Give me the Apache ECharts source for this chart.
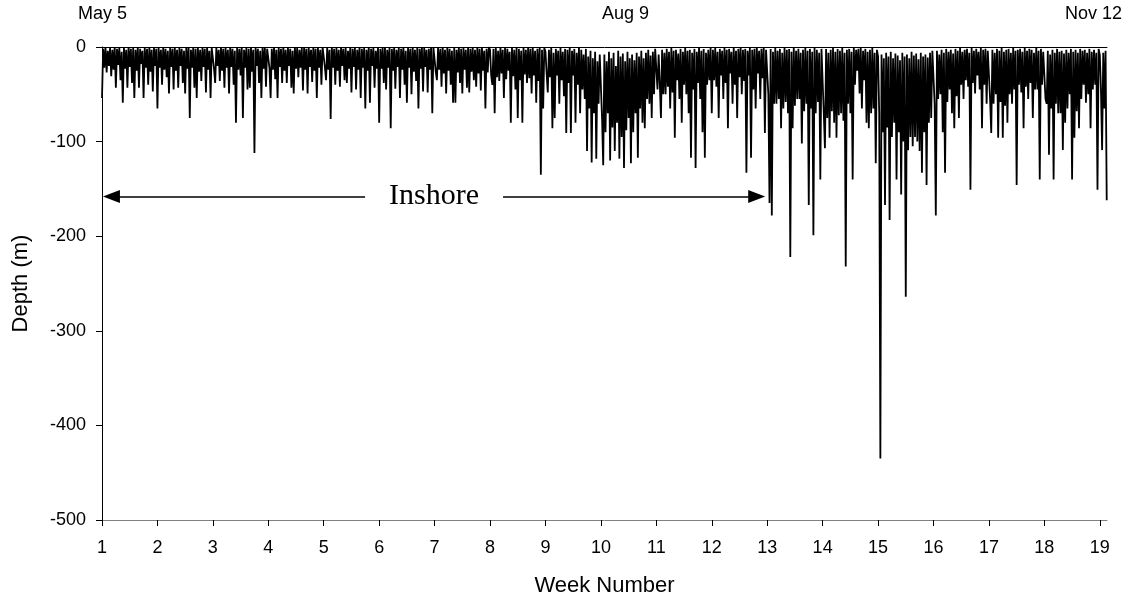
<!DOCTYPE html>
<html>
<head>
<meta charset="utf-8">
<script src="https://cdn.jsdelivr.net/npm/echarts@6/dist/echarts.min.js"></script>
<style>html,body{margin:0;padding:0;background:#fff;}#chart{width:1131px;height:603px;}</style>
</head>
<body>
<div id="chart"></div>
<script>
// Depth (m) readings, 48 samples per week
const samplesPerWeek = 48;
const startWeek = 1;
const w1 = [-54,-2,-22,0,-27,-4,-20,-1,-31,-3,-24,0,-43,-2,-19,-1,-35,-5,-59,-1,-23,-3,-43,0,-21,-2,-38,-1,-54,-3,-25,0,-43,-2,-18,-4,-54,-1,-22,-2,-40,0,-26,-3,-47,-1,-20,-2];
const w2 = [-65,-1,-22,-3,-40,0,-24,-2,-32,-4,-49,-1,-21,-2,-45,0,-25,-3,-43,-1,-20,-2,-38,-4,-49,0,-23,-1,-75,-3,-22,-1,-43,-2,-54,0,-26,-3,-36,-1,-21,-2,-48,0,-24,-4,-54,-1];
const w3 = [-2,-23,-38,-1,-20,-3,-36,0,-25,-2,-43,-1,-22,-3,-49,0,-21,-2,-40,-4,-80,-1,-24,-2,-30,0,-75,-3,-22,-1,-45,-2,-43,0,-26,-3,-112,-1,-20,-2,-38,-4,-54,0,-23,-1,-42,-2];
const w4 = [-1,-22,-54,-2,-24,0,-34,-3,-54,-1,-21,-2,-38,0,-25,-3,-38,-1,-20,-2,-43,-4,-49,0,-23,-1,-32,-3,-22,-1,-46,0,-24,-2,-49,-1,-21,-3,-37,0,-25,-2,-54,-1,-22,-3,-40,0];
const w5 = [-2,-21,-35,-1,-24,-3,-76,0,-22,-2,-40,-1,-25,-3,-42,0,-20,-2,-35,-1,-38,-4,-23,0,-48,-2,-21,-1,-45,-3,-24,0,-54,-2,-22,-1,-65,-3,-25,0,-59,-2,-20,-1,-43,-4,-23,0];
const w6 = [-80,-2,-23,-1,-38,0,-45,-3,-22,-1,-86,-2,-25,0,-44,-3,-21,-1,-54,-2,-24,0,-40,-4,-59,-1,-22,-2,-50,0,-26,-3,-36,-1,-65,-2,-23,0,-47,-1,-21,-3,-48,-2,-24,0,-70,-1];
const w7 = [-3,-26,-35,-1,-24,-2,-42,0,-28,-3,-49,-1,-25,-2,-40,-4,-59,-1,-59,-3,-27,0,-38,-2,-49,-1,-24,-3,-43,0,-48,-2,-26,-1,-35,-3,-42,0,-28,-2,-46,-1,-25,-4,-65,-2,-27,0];
const w8 = [-3,-30,-40,-2,-70,-1,-32,-4,-36,0,-28,-3,-54,-1,-34,-2,-25,-5,-80,-1,-31,-3,-45,0,-75,-2,-35,-4,-80,-1,-29,-3,-38,0,-33,-2,-49,-1,-30,-4,-59,-2,-36,0,-135,-3,-65,-1];
const w9 = [-5,-28,-48,-3,-32,-1,-86,-6,-75,-2,-30,-4,-60,-1,-35,-5,-52,-2,-91,-3,-38,-1,-91,-4,-30,-2,-80,-6,-40,-1,-70,-3,-45,-8,-55,-2,-110,-10,-65,-4,-122,-12,-70,-5,-118,-15,-60,-8];
const w10 = [-10,-75,-125,-8,-90,-15,-70,-5,-120,-12,-85,-6,-110,-20,-80,-4,-118,-10,-95,-7,-128,-15,-88,-5,-75,-12,-123,-8,-90,-14,-70,-6,-117,-10,-65,-4,-80,-12,-86,-6,-55,-3,-60,-9,-75,-5,-50,-2];
const w11 = [-4,-45,-8,-38,-75,-3,-50,-6,-50,-2,-42,-5,-65,-1,-48,-4,-96,-3,-35,-7,-55,-2,-80,-5,-40,-1,-50,-4,-70,-3,-117,-6,-45,-2,-128,-5,-38,-1,-55,-4,-90,-2,-117,-6,-40,-3,-35,-1];
const w12 = [-70,-3,-35,-1,-42,-5,-75,-2,-30,-4,-55,-1,-38,-3,-86,-2,-28,-5,-60,-1,-40,-4,-75,-2,-32,-1,-50,-3,-36,-2,-133,-4,-30,-1,-117,-3,-45,-2,-65,-1,-28,-4,-55,-2,-33,-1,-91,-3];
const w13 = [-3,-50,-165,-2,-178,-5,-60,-1,-60,-4,-55,-2,-86,-6,-65,-1,-58,-3,-70,-2,-222,-5,-86,-1,-62,-4,-55,-2,-55,-6,-102,-3,-68,-1,-60,-4,-167,-2,-65,-5,-199,-1,-70,-3,-58,-6,-140,-2];
const w14 = [-4,-70,-107,-2,-75,-6,-96,-3,-68,-1,-80,-5,-96,-2,-72,-4,-70,-1,-78,-6,-232,-3,-60,-2,-70,-5,-140,-1,-40,-3,-25,-2,-49,-1,-65,-4,-35,-2,-80,-5,-86,-3,-70,-1,-65,-6,-123,-3];
const w15 = [-10,-70,-435,-8,-90,-12,-167,-6,-85,-10,-183,-5,-95,-12,-80,-7,-140,-9,-90,-14,-156,-6,-100,-10,-264,-8,-109,-12,-95,-5,-105,-9,-95,-7,-100,-13,-110,-6,-133,-10,-90,-8,-146,-11,-80,-6,-75,-4];
const w16 = [-6,-60,-178,-4,-55,-8,-50,-3,-90,-6,-133,-2,-58,-5,-45,-3,-70,-7,-86,-2,-52,-4,-75,-1,-40,-5,-55,-3,-35,-2,-42,-6,-151,-1,-38,-4,-49,-2,-30,-5,-45,-1,-86,-3,-40,-2,-60,-4];
const w17 = [-5,-55,-91,-3,-60,-6,-50,-2,-96,-4,-58,-1,-96,-5,-62,-3,-80,-2,-50,-6,-60,-1,-45,-4,-146,-3,-40,-2,-48,-5,-86,-1,-42,-4,-55,-2,-38,-3,-75,-6,-45,-1,-45,-4,-140,-2,-40,-5];
const w18 = [-6,-55,-60,-4,-114,-8,-65,-3,-140,-6,-60,-2,-70,-5,-70,-4,-109,-7,-80,-3,-65,-6,-50,-2,-140,-5,-96,-3,-68,-6,-86,-2,-55,-4,-40,-3,-59,-6,-50,-2,-86,-5,-45,-3,-40,-6,-151,-2];
const w19 = [-8,-45,-109,-6,-65,-4,-162];

const yTicks = [-500, -400, -300, -200, -100, 0];
const weekTicks = [1,2,3,4,5,6,7,8,9,10,11,12,13,14,15,16,17,18,19];
const dateLabels = ['May 5', 'Aug 9', 'Nov 12'];
const inshoreRange = [1.17, 12.81];
const inshoreDepth = -158;

const depths = [].concat(w1,w2,w3,w4,w5,w6,w7,w8,w9,w10,w11,w12,w13,w14,w15,w16,w17,w18,w19);
const seriesData = depths.map((d, i) => [startWeek + i / samplesPerWeek, d]);

const font = 'Liberation Sans';
const chart = echarts.init(document.getElementById('chart'));
chart.setOption({
  animation: false,
  backgroundColor: '#fff',
  grid: { left: 102, right: 24, top: 47, bottom: 83, containLabel: false },
  xAxis: [{
    type: 'value', min: weekTicks[0], max: 19.13, interval: 1,
    name: 'Week Number', nameLocation: 'middle', nameGap: 55,
    nameTextStyle: { fontFamily: font, fontSize: 22, color: '#000' },
    axisLine: { onZero: false, lineStyle: { color: '#808080', width: 1 } },
    axisTick: { show: true, length: 6, lineStyle: { color: '#000' } },
    axisLabel: { fontFamily: font, fontSize: 18, color: '#000', margin: 19,
      showMaxLabel: false,
      formatter: v => weekTicks.indexOf(v) >= 0 ? String(v) : '' },
    splitLine: { show: false }
  }, {
    type: 'value', position: 'top', min: weekTicks[0], max: 19.13,
    axisLine: { onZero: false, lineStyle: { color: '#000', width: 1 } },
    axisTick: { show: false }, axisLabel: { show: false }, splitLine: { show: false }
  }],
  yAxis: {
    type: 'value', min: yTicks[0], max: yTicks[yTicks.length - 1], interval: 100,
    name: 'Depth (m)', nameLocation: 'middle', nameGap: 70,
    nameTextStyle: { fontFamily: font, fontSize: 22, color: '#000' },
    axisLine: { show: true, lineStyle: { color: '#000', width: 1 } },
    axisTick: { show: true, length: 6, lineStyle: { color: '#000' } },
    axisLabel: { fontFamily: font, fontSize: 18, color: '#000', margin: 16 },
    splitLine: { show: false }
  },
  graphic: [
    { type: 'text', left: 78, top: 5, style: { text: dateLabels[0], font: '18px "Liberation Sans"', fill: '#000' } },
    { type: 'text', left: 602, top: 5, style: { text: dateLabels[1], font: '18px "Liberation Sans"', fill: '#000' } },
    { type: 'text', left: 1065, top: 5, style: { text: dateLabels[2], font: '18px "Liberation Sans"', fill: '#000' } }
  ],
  series: [{
    type: 'line',
    data: seriesData,
    showSymbol: false,
    sampling: null,
    lineStyle: { color: '#000', width: 1.8 },
    itemStyle: { color: '#000' },
    z: 2,
    markLine: {
      silent: true,
      symbol: ['triangle', 'triangle'],
      symbolSize: [13, 17],
      lineStyle: { color: '#000', width: 1.5, type: 'solid' },
      label: {
        show: true, position: 'insideMiddle', formatter: 'Inshore',
        fontFamily: 'Liberation Serif', fontSize: 30, color: '#000',
        backgroundColor: '#fff', padding: [0, 24], distance: 0
      },
      data: [[{ coord: [inshoreRange[0], inshoreDepth] }, { coord: [inshoreRange[1], inshoreDepth] }]]
    }
  }]
});
</script>
</body>
</html>
